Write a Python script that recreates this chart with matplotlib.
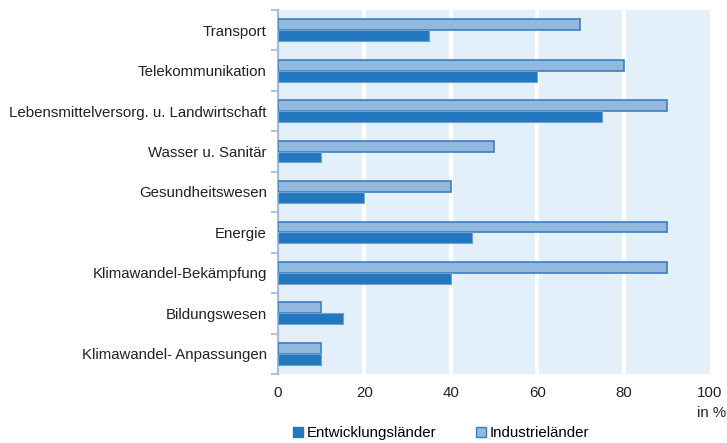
import matplotlib
matplotlib.use("Agg")
import matplotlib.pyplot as plt
import numpy as np
from matplotlib.patches import Patch

categories = ["Transport", "Telekommunikation", "Lebensmittelversorg. u. Landwirtschaft",
              "Wasser u. Sanitär", "Gesundheitswesen", "Energie",
              "Klimawandel-Bekämpfung", "Bildungswesen", "Klimawandel- Anpassungen"]
entwicklung = [35, 60, 75, 10, 20, 45, 40, 15, 10]
industrie = [70, 80, 90, 50, 40, 90, 90, 10, 10]
xticks = [0, 20, 40, 60, 80, 100]

plt.rcParams['font.family'] = ['Liberation Sans', 'DejaVu Sans']
fig = plt.figure(figsize=(7.27, 4.43), dpi=100)
ax = fig.add_axes([0.3824, 0.1558, 0.5942, 0.8216])
ax.set_facecolor('#e3eff9')

n = len(categories)
y = np.arange(n)
h = 0.27
dark = '#2277bd'
light = '#93b8dd'
ax.barh(y - h/2, industrie, height=h, color=light, edgecolor='#3a7fc0', linewidth=1.2, zorder=3)
ax.barh(y + h/2, entwicklung, height=h, color=dark, edgecolor='#6da3d6', linewidth=0.8, zorder=3)

fs = 10.8
ax.set_xlim(0, 100)
ax.set_ylim(n - 0.5, -0.5)
ax.set_xticks(xticks)
ax.set_xticklabels([str(v) for v in xticks], fontsize=fs, color='#222222')
ax.tick_params(axis='x', length=0, pad=9)
for v in xticks[1:-1]:
    ax.axvline(v, color='white', linewidth=3, zorder=1)

ax.set_yticks(y)
ax.set_yticklabels(categories, fontsize=fs, color='#222222')
ax.tick_params(axis='y', which='major', length=0, pad=8)
ax.set_yticks(np.arange(-0.5, n, 1), minor=True)
ax.tick_params(axis='y', which='minor', length=5, color='#a9b8e0', width=1.2)

for s in ['top', 'right', 'bottom']:
    ax.spines[s].set_visible(False)
ax.spines['left'].set_color('#a9b8e0')
ax.spines['left'].set_linewidth(1.5)

fig.text(0.999, 0.0677, "in %", ha='right', va='center', fontsize=fs, color='#222222')

handles = [Patch(facecolor=dark, edgecolor='#2277bd'), Patch(facecolor=light, edgecolor='#3a7fc0')]
fig.legend(handles, ["Entwicklungsländer", "Industrieländer"], loc='center left',
           bbox_to_anchor=(0.403, 0.022), ncol=2, frameon=False, fontsize=fs,
           handlelength=0.65, handleheight=0.65, handletextpad=0.3, columnspacing=2.6,
           borderaxespad=0, borderpad=0)

fig.savefig("out.png", dpi=100)
